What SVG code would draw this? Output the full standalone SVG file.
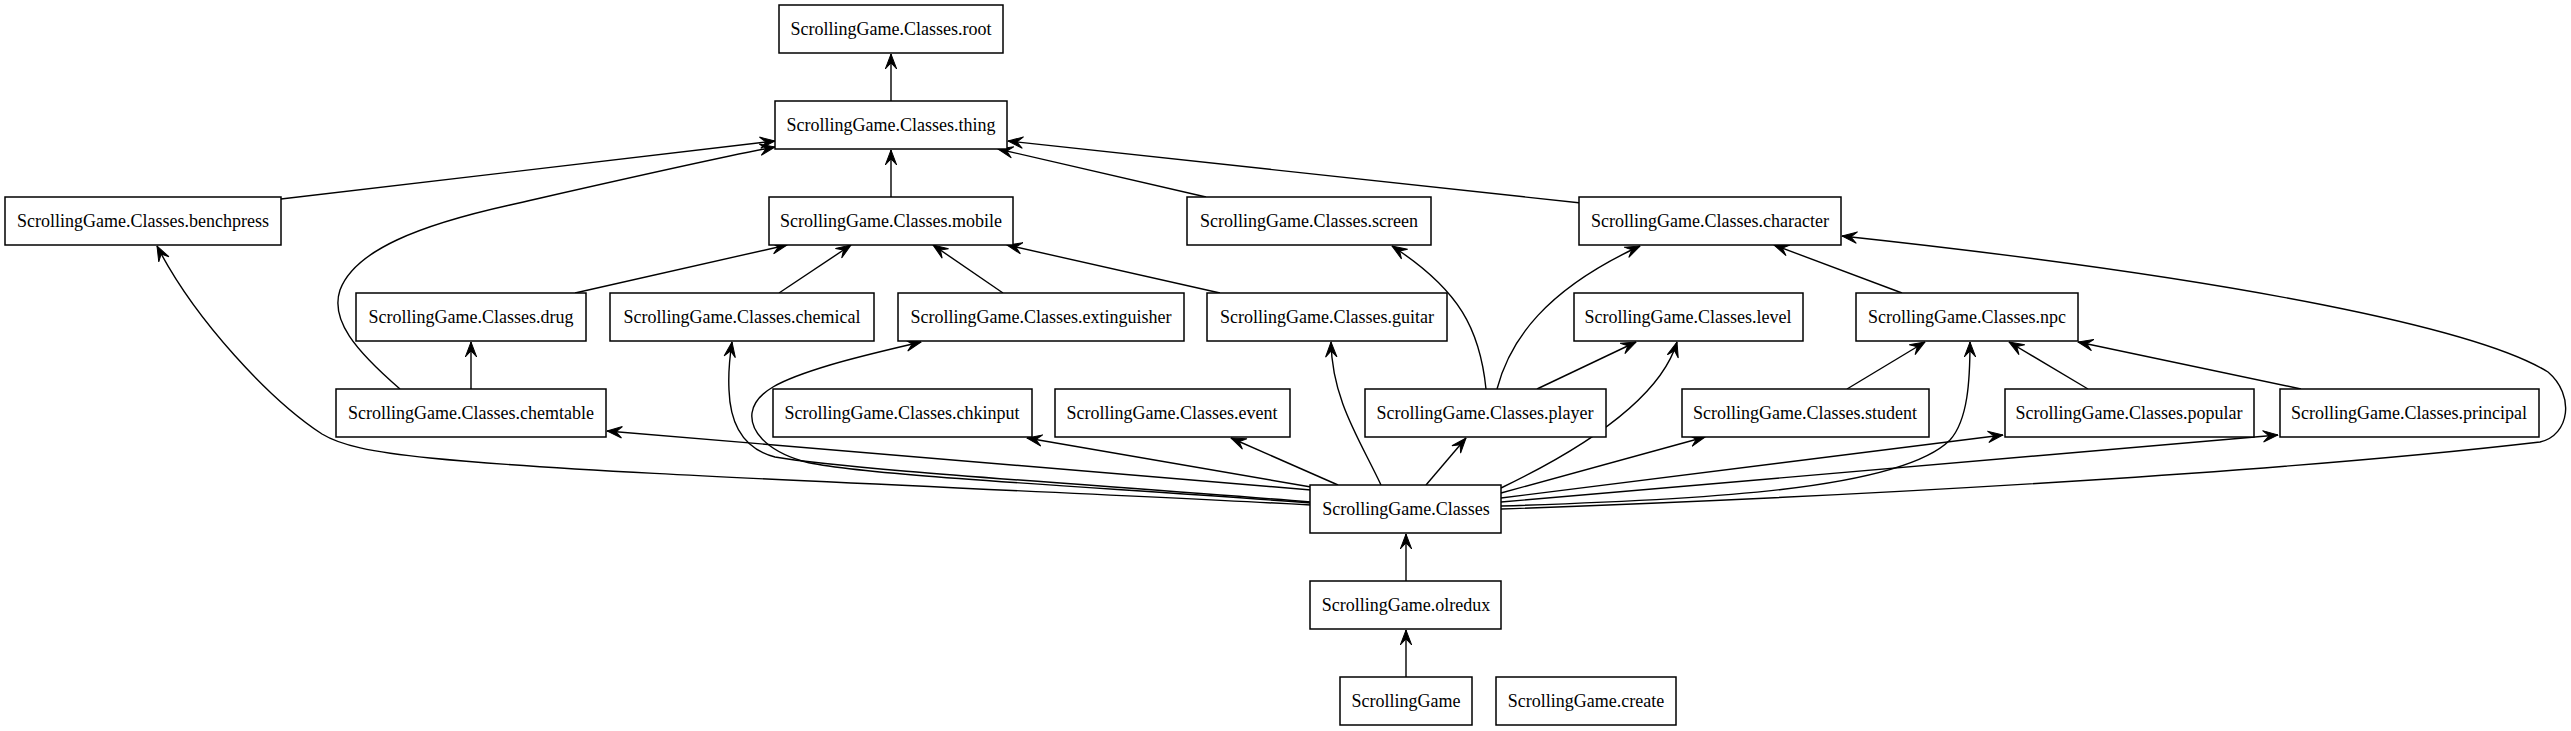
<svg xmlns="http://www.w3.org/2000/svg" width="2571" height="731" viewBox="0 0 2571 731">
<style>
.n rect{fill:#fff;stroke:#000;stroke-width:1.5}
.n text{font-family:"Liberation Serif","Times New Roman",serif;font-size:18px;fill:#000;text-anchor:middle}
#edges path{fill:none;stroke:#000;stroke-width:1.4;marker-end:url(#vee)}
</style>
<defs>
<marker id="vee" markerUnits="userSpaceOnUse" markerWidth="16" markerHeight="13" viewBox="0 0 16 13" refX="15.5" refY="6.5" orient="auto">
<path d="M0.5,0.8 L15.5,6.5 L0.5,12.2 L6.5,6.5 z" fill="#000" stroke="#000" stroke-width="1"/>
</marker>
</defs>
<rect width="2571" height="731" fill="#fff"/>
<g id="edges">
<path d="M891,101 L891,54"/>
<path d="M281,199 L775,141"/>
<path d="M400,389 C355,350 330,320 340,290 C355,250 420,225 510,205 C620,180 720,157 775,147"/>
<path d="M891,197 L891,150"/>
<path d="M1206,197 L998,149"/>
<path d="M1581,203 L1008,141"/>
<path d="M575,293 L787,245"/>
<path d="M779,293 L851,245"/>
<path d="M1003,293 L933,245"/>
<path d="M1220,293 L1007,245"/>
<path d="M471,389 L471,342"/>
<path d="M1902,293 L1774,245"/>
<path d="M1486,389 C1480,330 1460,290 1392,246"/>
<path d="M1497,389 C1510,340 1545,290 1640,246"/>
<path d="M1537,389 L1636,342"/>
<path d="M1847,389 L1925,342"/>
<path d="M2088,389 L2009,342"/>
<path d="M2301,389 L2078,342"/>
<path d="M1406,581 L1406,534"/>
<path d="M1406,677 L1406,630"/>
<path d="M1311,505 C1000,488 600,475 430,458 C370,452 340,445 322,434 C270,400 195,320 157,246"/>
<path d="M1311,490 L607,431"/>
<path d="M1311,502 C1100,485 850,470 775,457 C740,448 730,420 729,390 C728,370 730,355 732,342"/>
<path d="M1311,503 C1100,487 850,475 802,461 C765,450 750,430 752,413 C755,392 780,380 830,365 C860,356 900,347 921,342"/>
<path d="M1311,487 L1027,438"/>
<path d="M1338,485 L1231,438"/>
<path d="M1381,485 C1360,440 1332,400 1331,342"/>
<path d="M1426,485 L1466,438"/>
<path d="M1501,488 C1580,450 1660,400 1677,342"/>
<path d="M1501,493 L1705,437"/>
<path d="M1501,506 C1700,500 1900,490 1950,440 C1968,420 1970,380 1970,342"/>
<path d="M1501,498 L2003,435"/>
<path d="M1501,502 L2278,435"/>
<path d="M1501,509 C1900,495 2300,470 2540,442 C2570,435 2575,395 2548,372 C2480,330 2250,280 1842,236"/>
</g>
<g id="root" class="n"><rect x="779" y="5" width="224" height="48"/><text x="891" y="35">ScrollingGame.Classes.root</text></g>
<g id="thing" class="n"><rect x="775" y="101" width="232" height="48"/><text x="891" y="131">ScrollingGame.Classes.thing</text></g>
<g id="benchpress" class="n"><rect x="5" y="197" width="276" height="48"/><text x="143" y="227">ScrollingGame.Classes.benchpress</text></g>
<g id="mobile" class="n"><rect x="769" y="197" width="244" height="48"/><text x="891" y="227">ScrollingGame.Classes.mobile</text></g>
<g id="screen" class="n"><rect x="1187" y="197" width="244" height="48"/><text x="1309" y="227">ScrollingGame.Classes.screen</text></g>
<g id="character" class="n"><rect x="1579" y="197" width="262" height="48"/><text x="1710" y="227">ScrollingGame.Classes.character</text></g>
<g id="drug" class="n"><rect x="356" y="293" width="230" height="48"/><text x="471" y="323">ScrollingGame.Classes.drug</text></g>
<g id="chemical" class="n"><rect x="610" y="293" width="264" height="48"/><text x="742" y="323">ScrollingGame.Classes.chemical</text></g>
<g id="extinguisher" class="n"><rect x="898" y="293" width="286" height="48"/><text x="1041" y="323">ScrollingGame.Classes.extinguisher</text></g>
<g id="guitar" class="n"><rect x="1207" y="293" width="240" height="48"/><text x="1327" y="323">ScrollingGame.Classes.guitar</text></g>
<g id="level" class="n"><rect x="1574" y="293" width="229" height="48"/><text x="1688" y="323">ScrollingGame.Classes.level</text></g>
<g id="npc" class="n"><rect x="1856" y="293" width="222" height="48"/><text x="1967" y="323">ScrollingGame.Classes.npc</text></g>
<g id="chemtable" class="n"><rect x="336" y="389" width="270" height="48"/><text x="471" y="419">ScrollingGame.Classes.chemtable</text></g>
<g id="chkinput" class="n"><rect x="773" y="389" width="259" height="48"/><text x="902" y="419">ScrollingGame.Classes.chkinput</text></g>
<g id="event" class="n"><rect x="1055" y="389" width="235" height="48"/><text x="1172" y="419">ScrollingGame.Classes.event</text></g>
<g id="player" class="n"><rect x="1365" y="389" width="241" height="48"/><text x="1485" y="419">ScrollingGame.Classes.player</text></g>
<g id="student" class="n"><rect x="1682" y="389" width="247" height="48"/><text x="1805" y="419">ScrollingGame.Classes.student</text></g>
<g id="popular" class="n"><rect x="2005" y="389" width="249" height="48"/><text x="2129" y="419">ScrollingGame.Classes.popular</text></g>
<g id="principal" class="n"><rect x="2280" y="389" width="259" height="48"/><text x="2409" y="419">ScrollingGame.Classes.principal</text></g>
<g id="Classes" class="n"><rect x="1310" y="485" width="191" height="48"/><text x="1406" y="515">ScrollingGame.Classes</text></g>
<g id="olredux" class="n"><rect x="1310" y="581" width="191" height="48"/><text x="1406" y="611">ScrollingGame.olredux</text></g>
<g id="ScrollingGame" class="n"><rect x="1340" y="677" width="132" height="48"/><text x="1406" y="707">ScrollingGame</text></g>
<g id="create" class="n"><rect x="1496" y="677" width="180" height="48"/><text x="1586" y="707">ScrollingGame.create</text></g>
</svg>
